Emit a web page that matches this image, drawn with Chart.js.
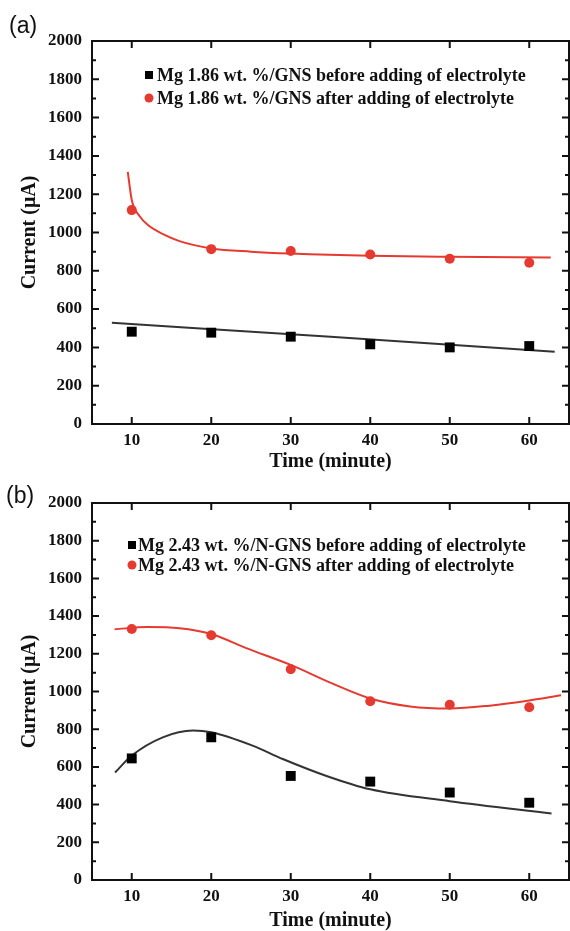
<!DOCTYPE html>
<html>
<head>
<meta charset="utf-8">
<script src="https://cdn.jsdelivr.net/npm/chart.js@4/dist/chart.umd.min.js"></script>
<style>
  body { margin:0; background:#fff; width:570px; height:931px; position:relative; overflow:hidden; }
  canvas { position:absolute; left:0; }
  .tag { position:absolute; z-index:2; font-family:"Liberation Sans", Arial, sans-serif; font-size:23px; color:#111; }
</style>
</head>
<body>
<div class="tag" style="left:9px;top:12px">(a)</div>
<canvas id="chartA" width="570" height="475" style="top:0"></canvas>
<div class="tag" style="left:6px;top:482px">(b)</div>
<canvas id="chartB" width="570" height="456" style="top:475px"></canvas>
<script>
// measured points (minute vs current in uA)
var minutes = [10, 20, 30, 40, 50, 60];
var aBefore = [482, 477, 456, 416, 400, 407];
var aAfter = [1117, 913, 903, 885, 863, 842];
var bBefore = [645, 757, 552, 522, 464, 410];
var bAfter = [1332, 1298, 1118, 948, 930, 916];

// fitted curves
var aBeforeFitX = [7.5, 35, 63.2];
var aBeforeFitY = [529, 455, 377];
var aAfterFitX = [9.5, 10, 11, 12, 14, 16, 20, 25, 30, 40, 50, 62.7];
var aAfterFitY = [1317, 1170, 1085, 1040, 990, 955, 917, 900, 890, 878, 873, 870];
var bBeforeFitX = [7.9, 10, 13.9, 17.7, 20, 25.2, 29, 34.5, 40, 50, 62.8];
var bBeforeFitY = [570, 660, 757, 793, 784, 713, 642, 552, 481, 418, 353];
var bAfterFitX = [7.85, 12, 16, 20, 24.4, 30, 35.2, 40, 45, 50, 55, 60, 64];
var bAfterFitY = [1330, 1342, 1336, 1305, 1230, 1141, 1043, 963, 921, 910, 925, 952, 980];

var xTicks = [10, 20, 30, 40, 50, 60];
var legendA = ['Mg 1.86 wt. %/GNS before adding of electrolyte', 'Mg 1.86 wt. %/GNS after adding of electrolyte'];
var legendB = ['Mg 2.43 wt. %/N-GNS before adding of electrolyte', 'Mg 2.43 wt. %/N-GNS after adding of electrolyte'];

var RED = '#e53a30';
var SERIF = '"Liberation Serif", "Times New Roman", serif';

function pts(xs, ys) {
    return xs.map(function(x, i) { return {x: x, y: ys[i]}; });
}

// box frame with inward ticks on all four sides
var framePlugin = {
    id: 'frame',
    afterDraw: function(chart) {
        var ctx = chart.ctx, a = chart.chartArea;
        var xs = chart.scales.x, ys = chart.scales.y;
        ctx.save();
        ctx.strokeStyle = '#111';
        ctx.lineWidth = 2;
        ctx.strokeRect(a.left, a.top, a.right - a.left, a.bottom - a.top);
        ctx.beginPath();
        xTicks.forEach(function(v) {
            var px = xs.getPixelForValue(v);
            ctx.moveTo(px, a.bottom); ctx.lineTo(px, a.bottom - 7);
            ctx.moveTo(px, a.top); ctx.lineTo(px, a.top + 7);
        });
        for (var v = 100; v < 2000; v += 100) {
            var py = ys.getPixelForValue(v);
            var len = v % 200 === 0 ? 7 : 4;
            ctx.moveTo(a.left, py); ctx.lineTo(a.left + len, py);
            ctx.moveTo(a.right, py); ctx.lineTo(a.right - len, py);
        }
        ctx.stroke();
        ctx.restore();
    }
};

// legend drawn inside the plot
var insideLegend = {
    id: 'insideLegend',
    afterDraw: function(chart, args, opts) {
        var ctx = chart.ctx;
        ctx.save();
        ctx.font = 'bold 18px ' + SERIF;
        ctx.textBaseline = 'middle';
        opts.labels.forEach(function(t, i) {
            var y = opts.rows[i];
            if (i === 0) {
                ctx.fillStyle = '#000';
                ctx.fillRect(opts.x - 4, y - 4, 8, 8);
            } else {
                ctx.fillStyle = RED;
                ctx.beginPath();
                ctx.arc(opts.x, y, 4.5, 0, Math.PI * 2);
                ctx.fill();
            }
            ctx.fillStyle = '#111';
            ctx.fillText(t, opts.textX, y + 1);
        });
        ctx.restore();
    }
};

function makeChart(id, before, after, beforeFit, afterFit, legend, padTop, titleBottom) {
    return new Chart(document.getElementById(id), {
        type: 'scatter',
        data: {
            datasets: [
                {label: 'before', data: pts(minutes, before), pointStyle: 'rect', pointRadius: 7,
                 backgroundColor: '#000', borderColor: '#000', borderWidth: 0, order: 0},
                {label: 'after', data: pts(minutes, after), pointStyle: 'circle', pointRadius: 5,
                 backgroundColor: RED, borderColor: RED, borderWidth: 0, order: 0},
                {label: 'before fit', data: beforeFit, showLine: true, pointRadius: 0,
                 borderColor: '#333', borderWidth: 2, cubicInterpolationMode: 'monotone', order: 1},
                {label: 'after fit', data: afterFit, showLine: true, pointRadius: 0,
                 borderColor: RED, borderWidth: 2, cubicInterpolationMode: 'monotone', order: 1}
            ]
        },
        options: {
            responsive: false,
            animation: false,
            // no auto padding for point overflow, plot box goes to the right edge
            layout: {autoPadding: false, padding: {top: padTop, right: 1, left: 0, bottom: 0}},
            plugins: {
                legend: {display: false},
                tooltip: {enabled: false},
                insideLegend: legend
            },
            scales: {
                x: {
                    min: 5, max: 65,
                    grid: {display: false, drawTicks: false},
                    border: {display: false},
                    afterBuildTicks: function(s) { s.ticks = xTicks.map(function(v) { return {value: v}; }); },
                    afterFit: function(s) { s.height = 51; s.paddingLeft = 0; s.paddingRight = 0; },
                    ticks: {color: '#111', padding: 6, font: {family: SERIF, size: 17, weight: 'bold'}},
                    title: {display: true, text: 'Time (minute)', color: '#111', padding: {bottom: titleBottom},
                            font: {family: SERIF, size: 20, weight: 'bold', lineHeight: 1}}
                },
                y: {
                    min: 0, max: 2000,
                    grid: {display: false, drawTicks: false},
                    border: {display: false},
                    afterFit: function(s) { s.width = 92; },
                    ticks: {stepSize: 200, color: '#111', padding: 10, font: {family: SERIF, size: 17, weight: 'bold'},
                            callback: function(v) { return String(v); }},
                    title: {display: true, text: 'Current (\u03bcA)', color: '#111', padding: {top: 20},
                            font: {family: SERIF, size: 20, weight: 'bold', lineHeight: 1}}
                }
            }
        },
        plugins: [framePlugin, insideLegend]
    });
}

makeChart('chartA', aBefore, aAfter, pts(aBeforeFitX, aBeforeFitY), pts(aAfterFitX, aAfterFitY),
    {labels: legendA, rows: [75, 98], x: 149, textX: 157}, 41, 3);
makeChart('chartB', bBefore, bAfter, pts(bBeforeFitX, bBeforeFitY), pts(bAfterFitX, bAfterFitY),
    {labels: legendB, rows: [70, 90], x: 132, textX: 138}, 28, 0);
</script>
</body>
</html>
